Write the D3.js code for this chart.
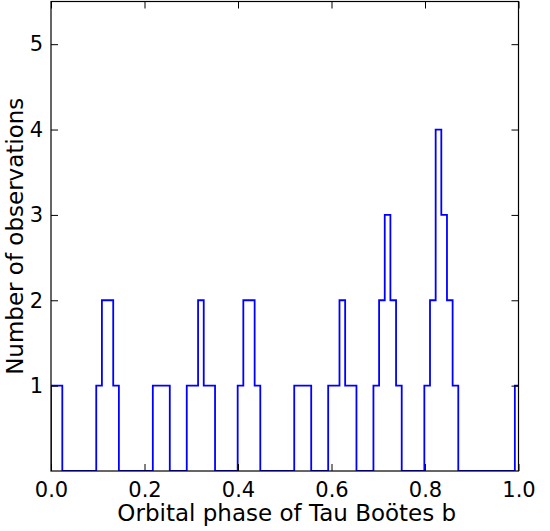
<!DOCTYPE html>
<html>
<head>
<meta charset="utf-8">
<script src="https://cdn.jsdelivr.net/npm/d3@7"></script>
<style>
  html, body { margin: 0; padding: 0; background: #fff; }
  svg { display: block; }
  text { font-family: "DejaVu Sans", sans-serif; }
</style>
</head>
<body>
<svg id="chart" width="550" height="531"></svg>
<script>
// Histogram of orbital phases: counts per phase bin
const binStart = 0;
const binWidth = 0.0121;
const counts = [
  1, 1, 0, 0, 0, 0, 0, 0, 1, 2,
  2, 1, 0, 0, 0, 0, 0, 0, 1, 1,
  1, 0, 0, 0, 1, 1, 2, 1, 1, 0,
  0, 0, 0, 1, 2, 2, 1, 0, 0, 0,
  0, 0, 0, 1, 1, 1, 0, 0, 0, 1,
  1, 2, 1, 1, 0, 0, 0, 1, 2, 3,
  2, 1, 0, 0, 0, 0, 1, 2, 4, 3,
  2, 1, 0, 0, 0, 0, 0, 0, 0, 0,
  0, 0, 1
];
const xTicks = [0, 0.2, 0.4, 0.6, 0.8, 1.0];
const yTicks = [1, 2, 3, 4, 5];
const xDomain = [0, 1];
const yDomain = [0, 5.5];
const xTitle = "Orbital phase of Tau Boötes b";
const yTitle = "Number of observations";

const W = 550, H = 531;
const m = { left: 51, right: 31.5, top: 1.5, bottom: 60 };
const svg = d3.select("#chart");

const x = d3.scaleLinear().domain(xDomain).range([m.left, W - m.right]);
const y = d3.scaleLinear().domain(yDomain).range([H - m.bottom, m.top]);

svg.append("defs").append("clipPath").attr("id", "plot-clip")
  .append("rect")
  .attr("x", x(xDomain[0])).attr("y", y(yDomain[1]))
  .attr("width", x(xDomain[1]) - x(xDomain[0]))
  .attr("height", y(yDomain[0]) - y(yDomain[1]));

// Step outline of the histogram
const pts = [[binStart, 0]];
counts.forEach((c, i) => {
  const x0 = binStart + i * binWidth, x1 = x0 + binWidth;
  pts.push([x0, c], [x1, c]);
});
pts.push([binStart + counts.length * binWidth, 0]);

const line = d3.line().x(d => x(d[0])).y(d => y(d[1]));
svg.append("path")
  .attr("clip-path", "url(#plot-clip)")
  .attr("d", line(pts))
  .attr("fill", "none")
  .attr("stroke", "#0000ff")
  .attr("stroke-width", 1.8)
  .attr("stroke-linejoin", "miter");

const tickLen = 7;
const tickFont = 21;
const titleFont = 23;
const fmtX = d3.format(".1f");

function styleAxis(g) {
  g.select(".domain").remove();
  g.selectAll(".tick line").attr("stroke", "#000").attr("stroke-width", 1);
  g.selectAll(".tick text").attr("fill", "#000").attr("font-size", tickFont)
    .attr("font-family", "DejaVu Sans, sans-serif");
}

// Bottom and top axes (ticks point inward)
svg.append("g").attr("transform", `translate(0,${y(0)})`)
  .call(d3.axisBottom(x).tickValues(xTicks).tickFormat(fmtX).tickSize(-tickLen).tickPadding(11))
  .call(styleAxis);
svg.append("g").attr("transform", `translate(0,${y(yDomain[1])})`)
  .call(d3.axisTop(x).tickValues(xTicks).tickFormat("").tickSize(-tickLen))
  .call(styleAxis);

// Left and right axes
svg.append("g").attr("transform", `translate(${x(0)},0)`)
  .call(d3.axisLeft(y).tickValues(yTicks).tickFormat(d3.format("d")).tickSize(-tickLen).tickPadding(8))
  .call(styleAxis);
svg.append("g").attr("transform", `translate(${x(1)},0)`)
  .call(d3.axisRight(y).tickValues(yTicks).tickFormat("").tickSize(-tickLen))
  .call(styleAxis);

// Frame
svg.append("rect")
  .attr("x", x(0)).attr("y", y(yDomain[1]))
  .attr("width", x(1) - x(0)).attr("height", y(0) - y(yDomain[1]))
  .attr("fill", "none").attr("stroke", "#000").attr("stroke-width", 1.2);

// Axis titles
svg.append("text")
  .attr("x", (x(0) + x(1)) / 2 + 2).attr("y", 521)
  .attr("text-anchor", "middle").attr("font-size", titleFont).attr("fill", "#000")
  .text(xTitle);
svg.append("text")
  .attr("transform", `translate(23,${(y(0) + y(yDomain[1])) / 2}) rotate(-90)`)
  .attr("text-anchor", "middle").attr("font-size", titleFont).attr("fill", "#000")
  .text(yTitle);
</script>
</body>
</html>
